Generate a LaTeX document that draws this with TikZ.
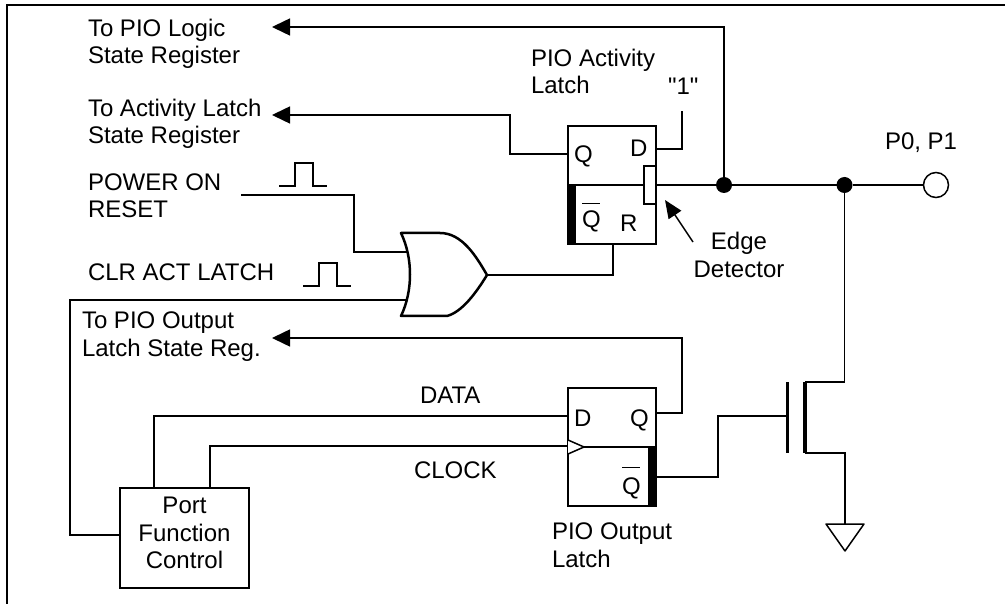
\documentclass[tikz,border=0pt]{standalone}
\usepackage{fontspec}
\setmainfont{Liberation Sans}
\newfontfamily\plainfont{Liberation Sans}
\usetikzlibrary{arrows.meta}
\newcommand{\qbar}[1]{\leavevmode\rlap{\raisebox{#1}{\rule{18pt}{1.2pt}}}Q}
\begin{document}
\begin{tikzpicture}[
  x=1pt, y=-1pt,
  line width=1.5pt,
  every node/.style={inner sep=0pt, outer sep=0pt},
  txt/.style={font=\fontsize{24}{27.3}\selectfont, anchor=base west, align=left},
  latch/.style={rectangle, draw, minimum width=88pt, minimum height=118pt},
  block/.style={rectangle, draw, minimum width=129pt, minimum height=100pt, font=\fontsize{24}{27.3}\selectfont, align=center},
  dot/.style={circle, fill=black, minimum size=16pt},
  bigarrow/.style={-{Triangle[length=18pt,width=17pt]}},
  node distance=262pt
]
\useasboundingbox (0,0) rectangle (1005,604);
\draw (1005,5) -- (7,5) -- (7,604);

% latches and boxes
\node[latch] (actlatch) at (612,185) {};
\node[latch, below of=actlatch] (outlatch) {};
\node[block, text depth=10pt] (portctl) at (184.5,538) {Port\\Function\\Control};
\draw (actlatch.west) -- (644,185);
\draw (outlatch.west) -- (outlatch.east);
\fill (568,185) rectangle (576,244);
\fill (648,447) rectangle (656,506);
\node[rectangle, draw, fill=white, minimum width=12pt, minimum height=38pt] (edgedet) at (650,185) {};
\draw[fill=white] (568,440) -- (584,447) -- (568,454);

% pin names
\node[txt] (actq) at (574,163) {Q};
\node[txt] (actd) at (630,157) {D};
\node[txt] (actqb) at (582,228) {\qbar{24pt}};
\node[txt] (actr) at (620,232) {R};
\node[txt] (outd) at (574,426) {D};
\node[txt] (outq) at (630,426) {Q};
\node[txt] (outqb) at (622,494) {\qbar{26pt}};

% labels
\node[txt] (tologic) at (88,64) {To PIO Logic\\State Register};
\node[txt] (toact) at (88,144) {To Activity Latch\\State Register};
\node[txt] (poweron) at (88,218) {POWER ON\\RESET};
\node[txt] (clract) at (88,281) {CLR ACT LATCH};
\node[txt] (toout) at (82,356) {To PIO Output\\Latch State Reg.};
\node[txt] (actname) at (531,94) {PIO Activity\\Latch};
\node[txt] (one) at (668,95) {\plainfont "1"};
\node[txt, anchor=base] (edgetxt) at (739,250) {Edge};
\node[txt, anchor=base] (dettxt) at (739,278) {Detector};
\node[txt] (pinname) at (885,150) {P0, P1};
\node[txt] (outname) at (552,567) {PIO Output\\Latch};
\node[txt] (datatxt) at (420,403) {DATA};
\node[txt] (clocktxt) at (414,478) {CLOCK};

% junctions and port
\node[dot] (junca) at (724,185) {};
\node[dot] (juncb) at (844.5,185) {};
\node[circle, draw, fill=white, minimum size=25pt] (port) at (936,185) {};

% wire ends
\coordinate (logicend) at (272,27);
\coordinate (actend) at (272,115);
\coordinate (outend) at (272,338);
\coordinate (actqpin) at (568,154);
\coordinate (actdpin) at (656,149);
\coordinate (onepin) at (682,111);
\coordinate (actrpin) at (613,244);
\coordinate (ortip) at (487,275);
\coordinate (orup) at (407,252);
\coordinate (orlow) at (407,300);
\coordinate (powerend) at (241,195);
\coordinate (outdpin) at (568,416);
\coordinate (outcpin) at (568,446);
\coordinate (outqpin) at (656,413);
\coordinate (outqbpin) at (656,477);
\coordinate (gate) at (787,416);
\coordinate (drain) at (805,382);
\coordinate (source) at (805,453);
\coordinate (gnd) at (845,524);
\coordinate (portleft) at (120,535);
\coordinate (portd) at (154,488);
\coordinate (portc) at (210,488);

% gate and transistor
\draw[line width=2.5pt, line join=round] (401,233) .. controls (413,258) and (413,291) .. (401,316)
  -- (447,316) .. controls (462,312) and (476,293) .. (ortip)
  .. controls (476,256) and (462,233) .. (440,233) -- cycle;
\draw[line width=3pt] (787,382) -- (787,453);
\draw[line width=4pt] (drain) -- (source);
\draw[line join=round] (826,524) -- (864,524) -- (845,551) -- cycle;

% pulses
\draw (279,186) -- (295,186) -- (295,163) -- (313,163) -- (313,186) -- (327,186);
\draw (303,286) -- (319,286) -- (319,263) -- (337,263) -- (337,286) -- (351,286);

% wires
\draw (edgedet.east) -- (junca) -- (juncb) -- (port);
\draw[bigarrow] (junca) |- (logicend);
\draw[bigarrow] (actqpin) -| (510,115) -- (actend);
\draw (actdpin) -| (onepin);
\draw (ortip) -| (actrpin);
\draw (powerend) -| (354,252) -- (orup);
\draw (portleft) -| (70,300) -- (orlow);
\draw (portd) |- (outdpin);
\draw (portc) |- (outcpin);
\draw[bigarrow] (outqpin) -| (682,338) -- (outend);
\draw (outqbpin) -| (718,416) -- (gate);
\draw (juncb) |- (drain);
\draw (source) -| (gnd);
\draw[-{Triangle[length=18pt,width=15pt]}] (693,242) -- (665,200);
\end{tikzpicture}
\end{document}
